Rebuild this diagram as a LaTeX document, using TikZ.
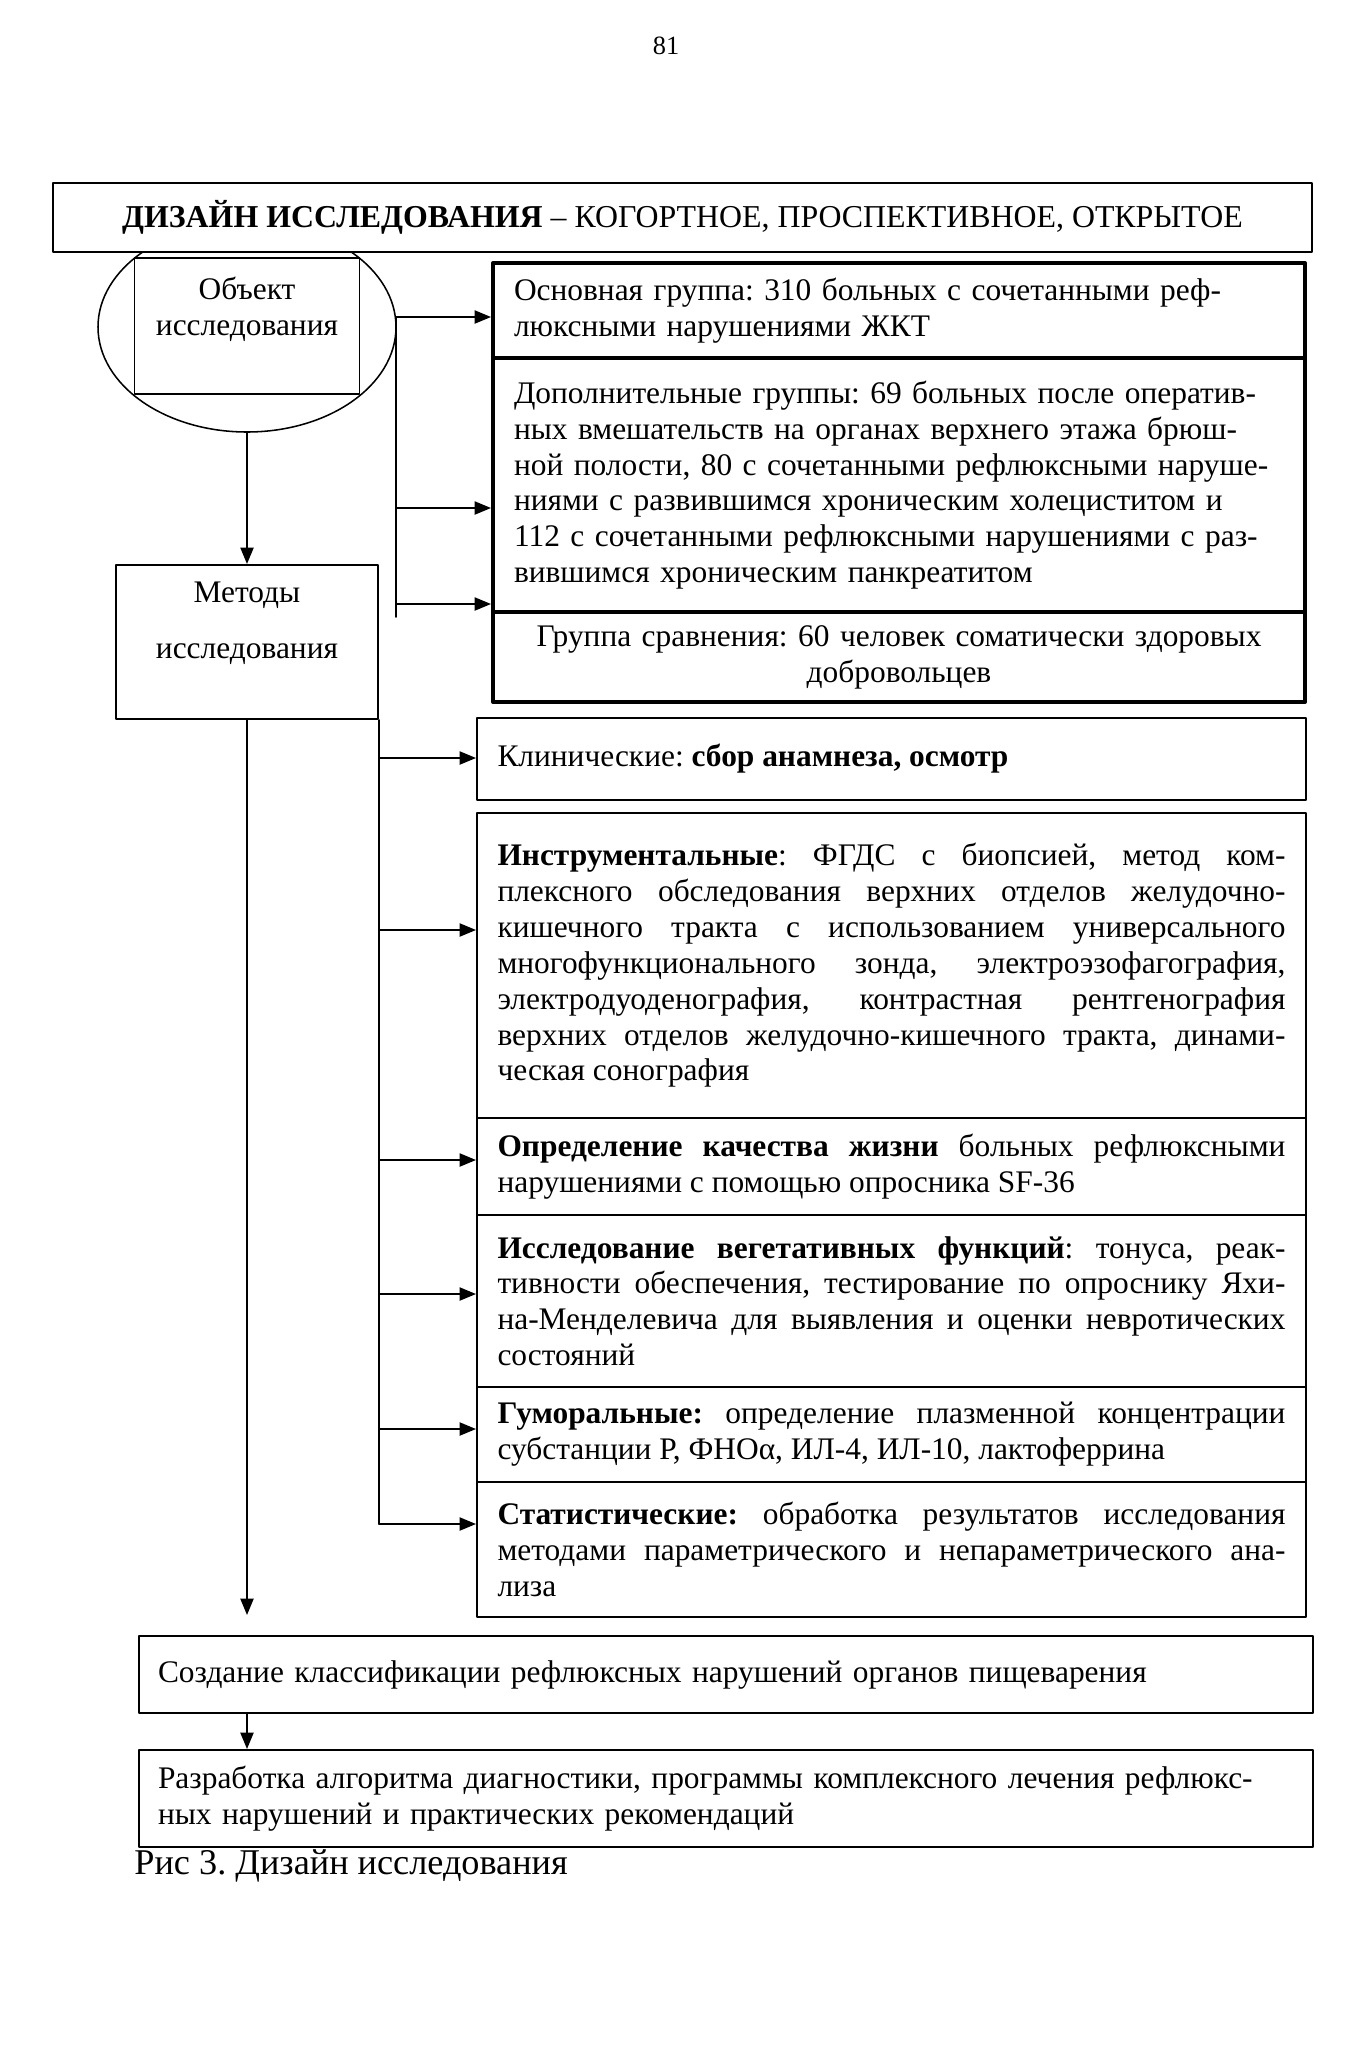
\documentclass[tikz,border=0pt]{standalone}
\usepackage{fontspec}
\setmainfont{Liberation Serif}
\usetikzlibrary{arrows.meta,shapes.geometric,positioning}
\frenchspacing

\begin{document}
\begin{tikzpicture}[x=0.16mm, y=-0.16mm, >={Triangle[length=7.5pt,width=6pt]},
	font=\fontsize{14.3}{16.3}\selectfont, line join=round, line cap=round,
	box/.style={draw, line width=0.9pt, fill=white, inner ysep=0pt},
	grp/.style={box, line width=1.8pt, minimum width=129.92mm, text width=123.2mm, inner xsep=3.36mm, align=left},
	meth/.style={box, minimum width=132.64mm, text width=126.08mm, inner xsep=3.28mm, align=justify},
	res/.style={box, minimum width=187.84mm, text width=181.76mm, inner xsep=3.04mm, align=left},
	lnk/.style={line width=0.8pt}]
	\useasboundingbox (0,0) rectangle (1366,2050);
	
	\node[font=\fontsize{12}{14}\selectfont] (pagenum) at (666,46) {81};
	
	% объект исследования
	\node[draw, ellipse, line width=0.7pt, minimum width=47.68mm, minimum height=33.6mm] (objell) at (247,327) {};
	\node[box, line width=0.7pt, minimum width=36mm, minimum height=21.76mm] (objbox) at (247,326) {};
	\node[align=center] (objtxt) at (247,309) {Объект\\исследования};
	\node[draw, line width=1.1pt, fill=white, minimum width=201.44mm, minimum height=11.04mm, font=\fontsize{14.5}{16.3}\selectfont] (title) at (682.5,217.5)
		{\textbf{ДИЗАЙН ИССЛЕДОВАНИЯ} – КОГОРТНОЕ, ПРОСПЕКТИВНОЕ, ОТКРЫТОЕ};
	
	% группы
	\node[grp, minimum height=15.2mm] (grpmain) at (899,310.5)
		{Основная группа: 310 больных с сочетанными реф-\\люксными нарушениями ЖКТ};
	\node[grp, minimum height=40.64mm] (grpadd) at (899,485)
		{Дополнительные группы: 69 больных после оператив-\\ных вмешательств на органах верхнего этажа брюш-\\ной полости, 80 с сочетанными рефлюксными наруше-\\ниями с развившимся хроническим холециститом и\\112 с сочетанными рефлюксными нарушениями с раз-\\вившимся хроническим панкреатитом};
	\node[grp, minimum height=14.4mm, align=center] (grpcmp) at (899,657)
		{Группа сравнения: 60 человек соматически здоровых\\добровольцев};
	
	% методы
	\node[box, minimum width=41.92mm, minimum height=24.64mm] (methods) at (247,642) {};
	\node[align=center] (methtxt) at (247,623) {Методы\\[9pt]исследования};
	
	\node[meth, minimum height=13.12mm] (clin) at (891.5,759) {Клинические: \textbf{сбор анамнеза, осмотр}};
	\node[meth, minimum height=48.8mm] (instr) at (891.5,965.5)
		{\textbf{Инструментальные}: ФГДС с биопсией, метод ком-\linebreak плексного обследования верхних отделов желудочно-\linebreak кишечного тракта с использованием универсального\linebreak многофункционального зонда, электроэзофагография,\linebreak электродуоденография, контрастная рентгенография\linebreak верхних отделов желудочно-кишечного тракта, динами-\linebreak ческая сонография};
	\node[meth, minimum height=15.52mm] (qual) at (891.5,1166.5)
		{\textbf{Определение качества жизни} больных рефлюксными\linebreak нарушениями с помощью опросника SF-36};
	\node[meth, minimum height=27.52mm] (veg) at (891.5,1301)
		{\textbf{Исследование вегетативных функций}: тонуса, реак-\linebreak тивности обеспечения, тестирование по опроснику Яхи-\linebreak на-Менделевича для выявления и оценки невротических\linebreak состояний};
	\node[meth, minimum height=15.2mm] (hum) at (891.5,1434.5)
		{\textbf{Гуморальные:} определение плазменной концентрации\linebreak субстанции Р, ФНОα, ИЛ-4, ИЛ-10, лактоферрина};
	\node[meth, minimum height=21.6mm] (stat) at (891.5,1549.5)
		{\textbf{Статистические:} обработка результатов исследования\linebreak методами параметрического и непараметрического ана-\linebreak лиза};
	
	% итог
	\node[res, minimum height=12.32mm] (classif) at (726,1674.5)
		{Создание классификации рефлюксных нарушений органов пищеварения};
	\node[res, minimum height=15.52mm] (devel) at (726,1798.5)
		{Разработка алгоритма диагностики, программы комплексного лечения рефлюкс-\\ных нарушений и практических рекомендаций};
	\node[anchor=west, inner sep=0pt, font=\fontsize{16.5}{19}\selectfont] (caption) at (134,1866) {Рис 3. Дизайн исследования};
	
	% связи
	\draw[lnk,->] (objell.south) -- (methods.north);
	\coordinate (t1) at (396,317);
	\coordinate (t2) at (396,508);
	\coordinate (t3) at (396,604);
	\coordinate (t4) at (396,617);
	\draw[lnk] (t1) -- (t4);
	\draw[lnk,->] (t1) -- (t1 -| grpmain.west);
	\draw[lnk,->] (t2) -- (t2 -| grpadd.west);
	\draw[lnk,->] (t3) -- (t3 -| grpadd.west);
	
	\draw[lnk] (methods.south east) -- (methods.south east |- 0,1524);
	\foreach \y/\n in {758/clin,930/instr,1160/qual,1294/veg,1429/hum,1524/stat}
		\draw[lnk,->] (methods.south east |- 0,\y) -- (\n.west |- 0,\y);
	
	\draw[lnk,->,shorten >=3.2mm] (methods.south) -- (methods.south |- classif.north);
	\draw[lnk,->] (methods.south |- classif.south) -- (methods.south |- devel.north);
\end{tikzpicture}
\end{document}
